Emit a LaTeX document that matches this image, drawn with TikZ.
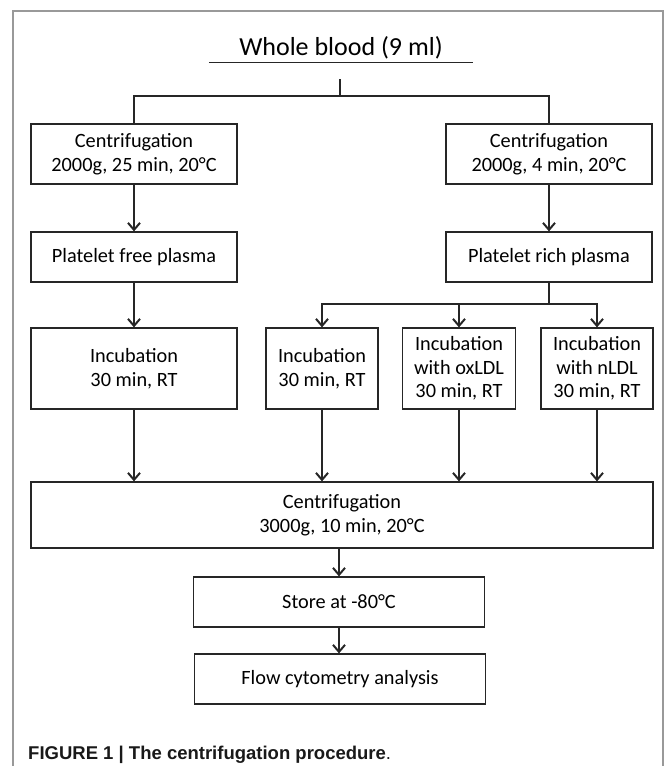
\documentclass[tikz,border=0pt]{standalone}
\usepackage{fontspec}
\setmainfont{Carlito}
\newfontfamily\capfont{Liberation Sans}
\usetikzlibrary{arrows.meta}

\begin{document}
\begin{tikzpicture}[x=1pt,y=-1pt,
    box/.style={draw=black!85, line width=1.2pt, align=center, inner sep=0pt,
        font=\fontsize{20.3}{23.5}\selectfont, text=black},
    line/.style={draw=black!85, line width=1.2pt},
    arr/.style={line, -{Straight Barb[length=7pt,width=12pt,line width=2pt]}}]
    \useasboundingbox (0,0) rectangle (665,766);

    % Frame
    \draw[black!40, line width=1.5pt] (13,766) -- (13,11) -- (663,11) -- (663,766);

    % Whole blood
    \node[minimum width=264pt, minimum height=28pt, inner sep=0pt,
        font=\fontsize{26}{30}\selectfont, text=black] (wb) at (341,48) {Whole blood (9 ml)};
    \draw[line] (wb.south west) -- (wb.south east);
    \coordinate (t0) at (340,79);
    \coordinate (t1) at (340,96);

    % Centrifugation (first step)
    \node[box, minimum width=206pt, minimum height=60pt] (c1) at (134,154) {Centrifugation\\2000g, 25 min, 20°C};
    \node[box, minimum width=206pt, minimum height=60pt] (c2) at (549,154) {Centrifugation\\2000g, 4 min, 20°C};
    \draw[line] (t0) -- (t1);
    \draw[line] (c1.north) |- (t1) -| (c2.north);

    % Plasma
    \node[box, minimum width=206pt, minimum height=50pt] (p1) at (134,257) {Platelet free plasma};
    \node[box, minimum width=206pt, minimum height=50pt] (p2) at (549,257) {Platelet rich plasma};
    \draw[arr] (c1) -- (p1);
    \draw[arr] (c2) -- (p2);

    % Incubation
    \node[box, minimum width=206pt, minimum height=81pt] (i1) at (134,368.5) {Incubation\\30 min, RT};
    \node[box, minimum width=112pt, minimum height=81pt] (i2) at (322,368.5) {Incubation\\30 min, RT};
    \node[box, minimum width=113pt, minimum height=81pt] (i3) at (459,368.5) {Incubation\\with oxLDL\\30 min, RT};
    \node[box, minimum width=112pt, minimum height=81pt] (i4) at (597,368.5) {Incubation\\with nLDL\\30 min, RT};
    \draw[arr] (p1) -- (i1);
    \coordinate (s) at (549,304);
    \draw[line] (p2) -- (s);
    \draw[arr] (s) -| (i2.north);
    \draw[arr] (s) -| (i3.north);
    \draw[arr] (s) -| (i4.north);

    % Centrifugation (second step)
    \node[box, minimum width=622pt, minimum height=66pt] (cf) at (342,515) {Centrifugation\\3000g, 10 min, 20°C};
    \foreach \n in {i1,i2,i3,i4}
        \draw[arr] (\n) -- (\n |- cf.north);

    % Store and analysis
    \node[box, minimum width=291pt, minimum height=50pt] (st) at (339,602) {Store at -80°C};
    \node[box, minimum width=291pt, minimum height=50pt] (fc) at (340,679) {Flow cytometry analysis};
    \draw[arr] (st.north |- cf.south) -- (st);
    \draw[arr] (st) -- (st |- fc.north);

    % Caption
    \node[anchor=west, inner sep=0pt, font=\capfont\fontsize{18.5}{22}\selectfont, text=black!90] (cap) at (28,755)
        {\textbf{FIGURE 1 | The centrifugation procedure}.};
\end{tikzpicture}
\end{document}
